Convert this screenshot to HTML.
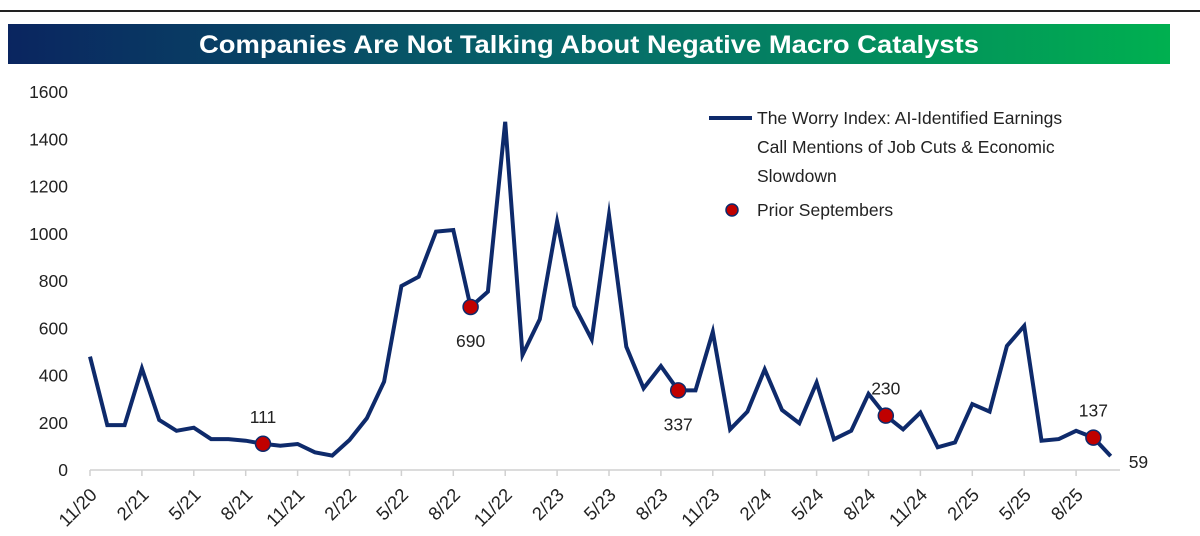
<!DOCTYPE html>
<html><head><meta charset="utf-8"><style>
body{margin:0;background:#fff;}
svg{display:block;font-family:"Liberation Sans",sans-serif;}
</style></head><body>
<svg id="chart" width="1200" height="536" viewBox="0 0 1200 536">
<defs><linearGradient id="tg" x1="0" x2="1"><stop offset="0" stop-color="#0a2560"/><stop offset="0.5" stop-color="#066a6a"/><stop offset="1" stop-color="#00b050"/></linearGradient></defs>
<rect x="0" y="10" width="1200" height="2" fill="#222"/>
<rect x="8" y="24" width="1162" height="40" fill="url(#tg)"/>
<text x="589" y="53" text-anchor="middle" fill="#fff" font-weight="600" font-size="25" textLength="780" lengthAdjust="spacingAndGlyphs">Companies Are Not Talking About Negative Macro Catalysts</text>
<g id="yaxis"></g>
<g id="xaxis"></g>
<g id="series"></g>
<g>
<line x1="709" y1="118" x2="752" y2="118" stroke="#0e2a6b" stroke-width="4"/>
<text x="757" y="124" font-size="17.5" fill="#222"><tspan x="757">The Worry Index: AI-Identified Earnings</tspan><tspan x="757" dy="29">Call Mentions of Job Cuts &amp; Economic</tspan><tspan x="757" dy="29">Slowdown</tspan></text>
<circle cx="732" cy="210" r="6" fill="#c00000" stroke="#0e2a6b" stroke-width="1.5"/>
<text x="757" y="216" font-size="17.5" fill="#222">Prior Septembers</text>
</g>
</svg>
<script>
const values = [480,190,190,430,212,166,179,131,131,124,111,103,110,75,61,127,219,374,779,818,1009,1016,690,755,1474,487,638,1051,694,553,1079,522,346,440,337,337,585,172,247,426,254,198,370,130,166,322,230,172,243,96,117,279,247,525,610,124,131,166,137,59];
const septIdx = [10,22,34,46,58];
const yTicks = [0,200,400,600,800,1000,1200,1400,1600];
const xLabels = ["11/20","2/21","5/21","8/21","11/21","2/22","5/22","8/22","11/22","2/23","5/23","8/23","11/23","2/24","5/24","8/24","11/24","2/25","5/25","8/25"];
const NS='http://www.w3.org/2000/svg';
const x0=90, dx=17.3, yBase=470, yScale=378/1600;
const X=i=>x0+i*dx, Y=v=>yBase-v*yScale;
function mk(tag,attrs,parent){const e=document.createElementNS(NS,tag);for(const k in attrs)e.setAttribute(k,attrs[k]);parent.appendChild(e);return e;}
const ya=document.getElementById('yaxis'), xa=document.getElementById('xaxis'), sg=document.getElementById('series');
yTicks.forEach(t=>{const e=mk('text',{x:68,y:Y(t)+6,'text-anchor':'end','font-size':17.5,fill:'#222'},ya);e.textContent=t;

});
const ax=mk('line',{x1:x0,y1:yBase,x2:1120,y2:yBase,stroke:'#d0d0d0','stroke-width':1.5},xa);


xLabels.forEach((l,k)=>{const tx=X(k*3);
const tk=mk('line',{x1:tx,y1:yBase,x2:tx,y2:yBase+6,stroke:'#d0d0d0','stroke-width':1.5},xa);


const e=mk('text',{x:0,y:0,'text-anchor':'end','font-size':18.5,fill:'#222',transform:`translate(${tx+8},${yBase+26}) rotate(-45)`},xa);e.textContent=l;

});
const pts=values.map((v,i)=>X(i).toFixed(1)+','+Y(v).toFixed(1)).join(' ');
const pl=mk('polyline',{points:pts,fill:'none',stroke:'#0e2a6b','stroke-width':4,'stroke-linejoin':'miter','stroke-miterlimit':10},sg);


const labelAbove={10:true,22:false,34:false,46:true,58:true};
septIdx.forEach(i=>{const c=mk('circle',{cx:X(i),cy:Y(values[i]),r:7.5,fill:'#c00000',stroke:'#0e2a6b','stroke-width':1.5},sg);


const t=mk('text',{x:X(i),y:labelAbove[i]?Y(values[i])-21:Y(values[i])+40,'text-anchor':'middle','font-size':17.5,fill:'#222'},sg);t.textContent=values[i];

});
const last=values.length-1;
const lt=mk('text',{x:X(last)+18,y:Y(values[last])+12,'font-size':17.5,fill:'#222'},sg);lt.textContent=values[last];


</script>
</body></html>
